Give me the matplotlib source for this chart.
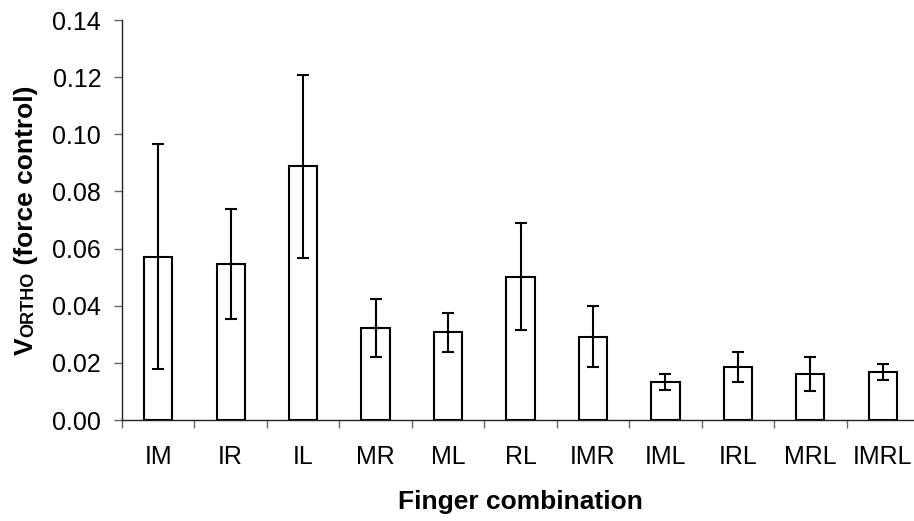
import matplotlib
matplotlib.use("Agg")
import matplotlib.pyplot as plt
import numpy as np

# finger combinations and their mean values with error (half range)
combos = ["IM", "IR", "IL", "MR", "ML", "RL", "IMR", "IML", "IRL", "MRL", "IMRL"]
means = [0.0572, 0.0546, 0.0888, 0.0322, 0.0307, 0.0502, 0.0292, 0.0132, 0.0186, 0.0161, 0.0167]
errors = [0.0395, 0.0193, 0.0320, 0.0103, 0.0069, 0.0186, 0.0106, 0.0028, 0.0053, 0.0059, 0.0028]
yticks = [0.00, 0.02, 0.04, 0.06, 0.08, 0.10, 0.12, 0.14]

plt.rcParams['font.family'] = ['Liberation Sans', 'DejaVu Sans']

W, H = 914, 521
fig = plt.figure(figsize=(W / 100, H / 100), dpi=100)
ax = fig.add_axes([122 / W, 101 / H, 797 / W, 400 / H])

x = np.arange(len(combos))
ax.bar(x, means, width=0.39, color='white', edgecolor='black', linewidth=1.5, zorder=2)
ax.errorbar(x, means, yerr=errors, fmt='none', ecolor='black', elinewidth=1.5,
            capsize=4, capthick=1.5, zorder=3)

ax.set_xlim(-0.5, len(combos) - 0.5)
ax.set_ylim(0, 0.14)
ax.set_yticks(yticks)
ax.set_yticklabels(["%.2f" % v for v in yticks], fontsize=18)

# major ticks sit between categories, labels go on minor ticks at the centres
ax.set_xticks(np.arange(-0.5, len(combos) - 0.5, 1.0))
ax.set_xticklabels([])
ax.set_xticks(x, minor=True)
ax.set_xticklabels(combos, minor=True, fontsize=18)
ax.tick_params(axis='x', which='minor', length=0, pad=18)
ax.tick_params(axis='x', which='major', direction='out', length=6, width=1, color='#666666')
ax.tick_params(axis='y', direction='out', length=6, width=1, color='#666666', pad=9)

for s in ['top', 'right']:
    ax.spines[s].set_visible(False)
for s in ['left', 'bottom']:
    ax.spines[s].set_linewidth(1.0)
    ax.spines[s].set_color('#222222')
ax.spines['bottom'].set_clip_on(False)

ax.set_xlabel("Finger combination", fontsize=19, fontweight='bold', labelpad=15)

# y label built from pieces so that ORTHO is smaller and on the baseline
fig.canvas.draw()
r = fig.canvas.get_renderer()
xb = 33 / W
ypix = 166
pieces = [("V", 19), ("ORTHO", 13), (" (force control)", 19)]
for txt, fs in pieces:
    t = fig.text(xb, ypix / H, txt, rotation=90, rotation_mode='anchor',
                 ha='left', va='baseline', fontsize=fs, fontweight='bold')
    bb = t.get_window_extent(r)
    ypix += bb.height

fig.savefig("out.png", dpi=100)
